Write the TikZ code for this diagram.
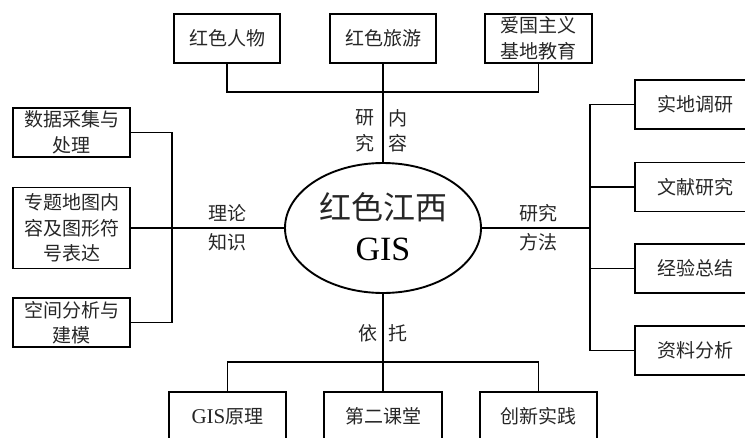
\documentclass[tikz,border=0pt]{standalone}
\usepackage{fontspec}
\setmainfont{Liberation Serif}
\newfontfamily\cjk{Noto Sans CJK SC}
\usetikzlibrary{shapes.geometric}
\begin{document}
\begin{tikzpicture}[x=1pt,y=-1pt,
  box/.style={draw,line width=1.9pt,inner sep=0pt,align=center,font=\fontsize{19}{25.5}\selectfont\cjk,text=black!85},
  lbl/.style={inner sep=0pt,font=\fontsize{19}{25}\selectfont\cjk,text=black!85},
  link/.style={line width=1.9pt}]
\clip (0,0) rectangle (745,437);
\useasboundingbox (0,0) rectangle (745,437);
% centre
\node[draw,ellipse,line width=1.9pt,minimum width=196pt,minimum height=130pt,inner sep=0pt] (c) at (383,228) {};
\node[inner sep=0pt,font=\fontsize{32}{32}\selectfont\cjk,text=black!85] (ct1) at (383,207) {红色江西};
\node[inner sep=0pt,font=\fontsize{34}{34}\selectfont\rmfamily] (ct2) at (383,249) {GIS};
% top
\node[box,minimum width=106pt,minimum height=49pt] (t1) at (227,38.5) {红色人物};
\node[box,minimum width=106pt,minimum height=49pt] (t2) at (383,38.5) {红色旅游};
\node[box,minimum width=107pt,minimum height=49pt] (t3) at (538.5,38.5) {爱国主义\\基地教育};
\coordinate (tbar) at (383,92);
\draw[link] (t1.south) |- (tbar) -| (t3.south);
\draw[link] (t2.south) -- (c.north);
\node[lbl] (n1) at (365,118) {研};
\node[lbl] (n2) at (365,143) {究};
\node[lbl] (n3) at (398,118) {内};
\node[lbl] (n4) at (398,143) {容};
% left
\node[box,minimum width=117pt,minimum height=49pt] (l1) at (71.5,132.5) {数据采集与\\处理};
\node[box,minimum width=117pt,minimum height=81pt] (l2) at (71.5,228) {专题地图内\\容及图形符\\号表达};
\node[box,minimum width=117pt,minimum height=49pt] (l3) at (71.5,322.5) {空间分析与\\建模};
\coordinate (lbar) at (172,228);
\draw[link] (l1.east) -| (lbar) |- (l3.east);
\draw[link] (l2.east) -- (c.west);
\node[lbl] (m1) at (227,213) {理论};
\node[lbl] (m2) at (227,242) {知识};
% right
\node[box,minimum width=120pt,minimum height=49pt] (r1) at (695,104.5) {实地调研};
\node[box,minimum width=120pt,minimum height=49pt] (r2) at (695,187) {文献研究};
\node[box,minimum width=120pt,minimum height=49pt] (r3) at (695,268.5) {经验总结};
\node[box,minimum width=120pt,minimum height=49pt] (r4) at (695,350.5) {资料分析};
\coordinate (rbar) at (590,228);
\draw[link] (r1.west) -| (rbar) |- (r4.west);
\draw[link] (r2.west) -- (r2.west -| rbar);
\draw[link] (r3.west) -- (r3.west -| rbar);
\draw[link] (c.east) -- (rbar);
\node[lbl] (k1) at (538,213) {研究};
\node[lbl] (k2) at (538,242) {方法};
% bottom
\node[box,minimum width=117pt,minimum height=49pt] (b1) at (227.5,416.5) {{\fontsize{21}{21}\selectfont\rmfamily GIS}原理};
\node[box,minimum width=118pt,minimum height=49pt] (b2) at (383,416.5) {第二课堂};
\node[box,minimum width=117pt,minimum height=49pt] (b3) at (538.5,416.5) {创新实践};
\coordinate (bbar) at (383,362);
\draw[link] (b1.north) |- (bbar) -| (b3.north);
\draw[link] (c.south) -- (b2.north);
\node[lbl] (d1) at (368,333) {依};
\node[lbl] (d2) at (398,333) {托};
\end{tikzpicture}
\end{document}
